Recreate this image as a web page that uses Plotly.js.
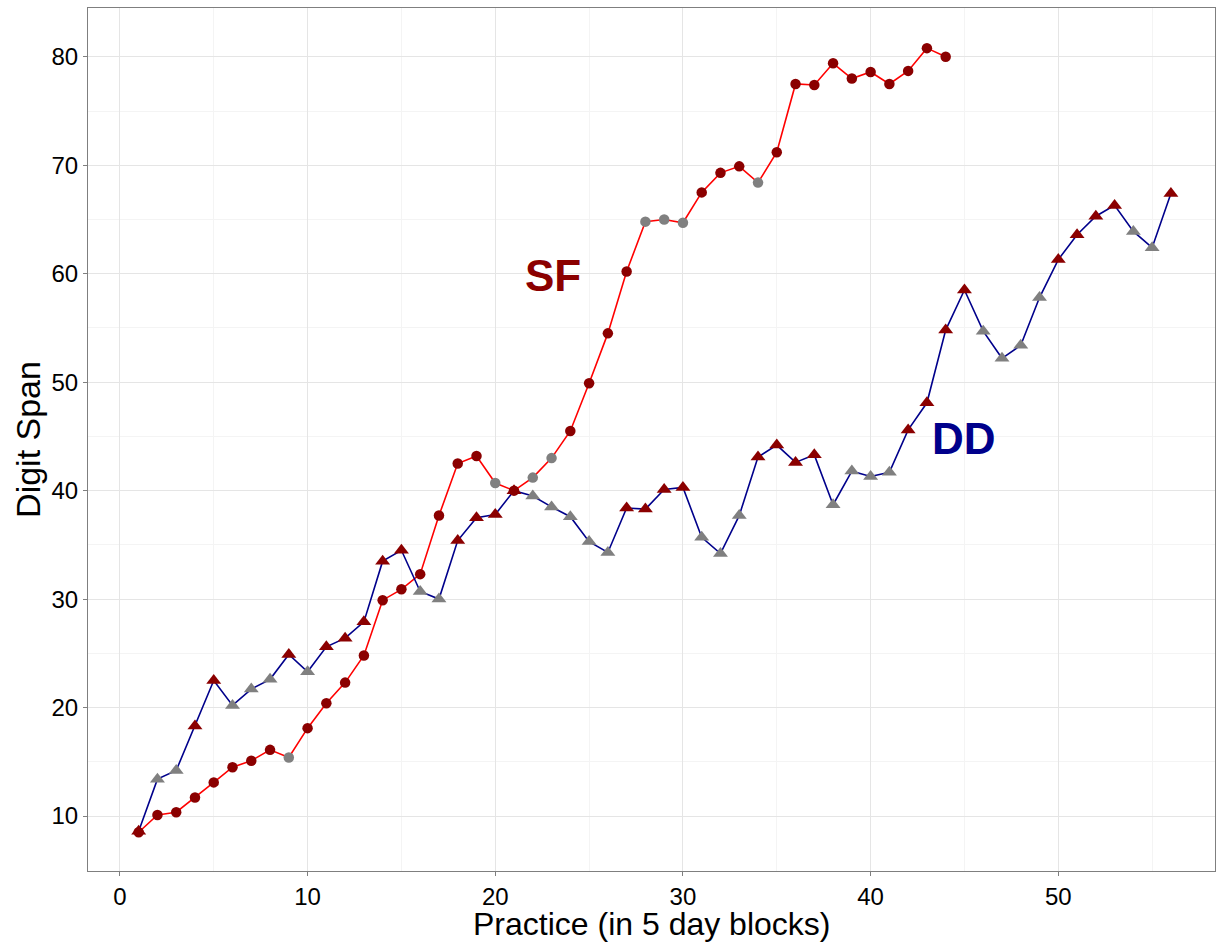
<!DOCTYPE html>
<html>
<head>
<meta charset="utf-8">
<script src="https://cdn.plot.ly/plotly-3.0.1.min.js"></script>
<style>html,body{margin:0;padding:0;background:#fff;}#chart{width:1216px;height:942px;}</style>
</head>
<body>
<div id="chart"></div>
<script>
const blocksSF = [1,2,3,4,5,6,7,8,9,10,11,12,13,14,15,16,17,18,19,20,21,22,23,24,25,26,27,28,29,30,31,32,33,34,35,36,37,38,39,40,41,42,43,44];
const spanSF = [8.5,10.1,10.35,11.7,13.1,14.5,15.1,16.1,15.4,18.1,20.4,22.3,24.8,29.9,30.9,32.3,37.7,42.5,43.2,40.7,40.0,41.2,43.0,45.5,49.9,54.5,60.2,64.8,65.0,64.7,67.5,69.3,69.9,68.4,71.2,77.5,77.4,79.4,78.0,78.6,77.5,78.7,80.8,80.0];
const groupSF = ["r","r","r","r","r","r","r","r","g","r","r","r","r","r","r","r","r","r","r","g","r","g","g","r","r","r","r","g","g","g","r","r","r","g","r","r","r","r","r","r","r","r","r","r"];

const blocksDD = [1,2,3,4,5,6,7,8,9,10,11,12,13,14,15,16,17,18,19,20,21,22,23,24,25,26,27,28,29,30,31,32,33,34,35,36,37,38,39,40,41,42,43,44,45,46,47,48,49,50,51,52,53,54,55,56];
const spanDD = [8.6,13.4,14.2,18.3,22.5,20.2,21.7,22.6,24.9,23.3,25.6,26.4,27.9,33.5,34.5,30.7,30.0,35.4,37.5,37.8,40.0,39.5,38.5,37.6,35.3,34.3,38.4,38.3,40.1,40.3,35.7,34.2,37.7,43.1,44.2,42.6,43.3,38.7,41.8,41.3,41.7,45.6,48.1,54.8,58.5,54.7,52.2,53.4,57.8,61.3,63.6,65.3,66.3,63.9,62.4,67.4];
const groupDD = ["r","g","g","r","r","g","g","g","r","g","r","r","r","r","r","g","g","r","r","r","r","g","g","g","g","g","r","r","r","r","g","g","g","r","r","r","r","g","g","g","g","r","r","r","r","g","g","g","g","r","r","r","r","g","g","r"];

const xTicks = [0,10,20,30,40,50];
const yTicks = [10,20,30,40,50,60,70,80];
const labels = [{text:"SF", x:23.05, y:59.8, color:"#8B0000"},{text:"DD", x:45.0, y:44.85, color:"#00008B"}];
const xTitle = "Practice (in 5 day blocks)";
const yTitle = "Digit Span";

const colMap = {r:"#8B0000", g:"#808080"};
const FONT = "Liberation Sans, Arial, Helvetica, sans-serif";

const traces = [
  {x:blocksSF, y:spanSF, mode:"lines", type:"scatter", line:{color:"#FF0000", width:1.6}, hoverinfo:"skip"},
  {x:blocksDD, y:spanDD, mode:"lines", type:"scatter", line:{color:"#00008B", width:1.6}, hoverinfo:"skip"},
  {x:blocksSF, y:spanSF, mode:"markers", type:"scatter", marker:{symbol:"circle", size:10.5, color:groupSF.map(g=>colMap[g]), line:{width:0}}},
  {x:blocksDD, y:spanDD, mode:"markers", type:"scatter", marker:{symbol:"triangle-up", size:13, color:groupDD.map(g=>colMap[g]), line:{width:0}}}
];

const axisCommon = {
  showgrid:true, gridcolor:"#E5E5E5", gridwidth:1,
  zeroline:false, showline:true, mirror:true, linecolor:"#7F7F7F", linewidth:1,
  ticks:"outside", ticklen:4, tickcolor:"#7F7F7F", tickwidth:1,
  tickfont:{family:FONT, size:24, color:"#000"},
  minor:{showgrid:true, gridcolor:"#F4F4F4", gridwidth:1, ticks:""}
};

const annots = labels.map(l=>({x:l.x, y:l.y, xref:"x", yref:"y", text:"<b>"+l.text+"</b>", showarrow:false,
    font:{family:FONT, size:44, color:l.color}, xanchor:"center", yanchor:"middle"}));
annots.push({x:0.5, xref:"paper", y:0, yref:"paper", yshift:-73, yanchor:"bottom", xanchor:"center",
  text:xTitle, showarrow:false, font:{family:FONT, size:32, color:"#000"}});

const layout = {
  width:1216, height:942,
  margin:{l:88, r:1, t:8, b:71},
  paper_bgcolor:"#fff", plot_bgcolor:"#fff",
  showlegend:false,
  font:{family:FONT, color:"#000"},
  xaxis:Object.assign({}, axisCommon, {
    range:[-1.7, 58.35], tickvals:xTicks, ticktext:xTicks.map(String),
    minor:Object.assign({}, axisCommon.minor, {dtick:5, tick0:0})
  }),
  yaxis:Object.assign({}, axisCommon, {
    range:[4.93, 84.5], tickvals:yTicks, ticktext:yTicks.map(String),
    minor:Object.assign({}, axisCommon.minor, {dtick:5, tick0:0}),
    title:{text:yTitle, font:{family:FONT, size:34, color:"#000"}, standoff:0}
  }),
  annotations: annots
};

Plotly.newPlot("chart", traces, layout, {displayModeBar:false, staticPlot:true});
</script>
</body>
</html>
